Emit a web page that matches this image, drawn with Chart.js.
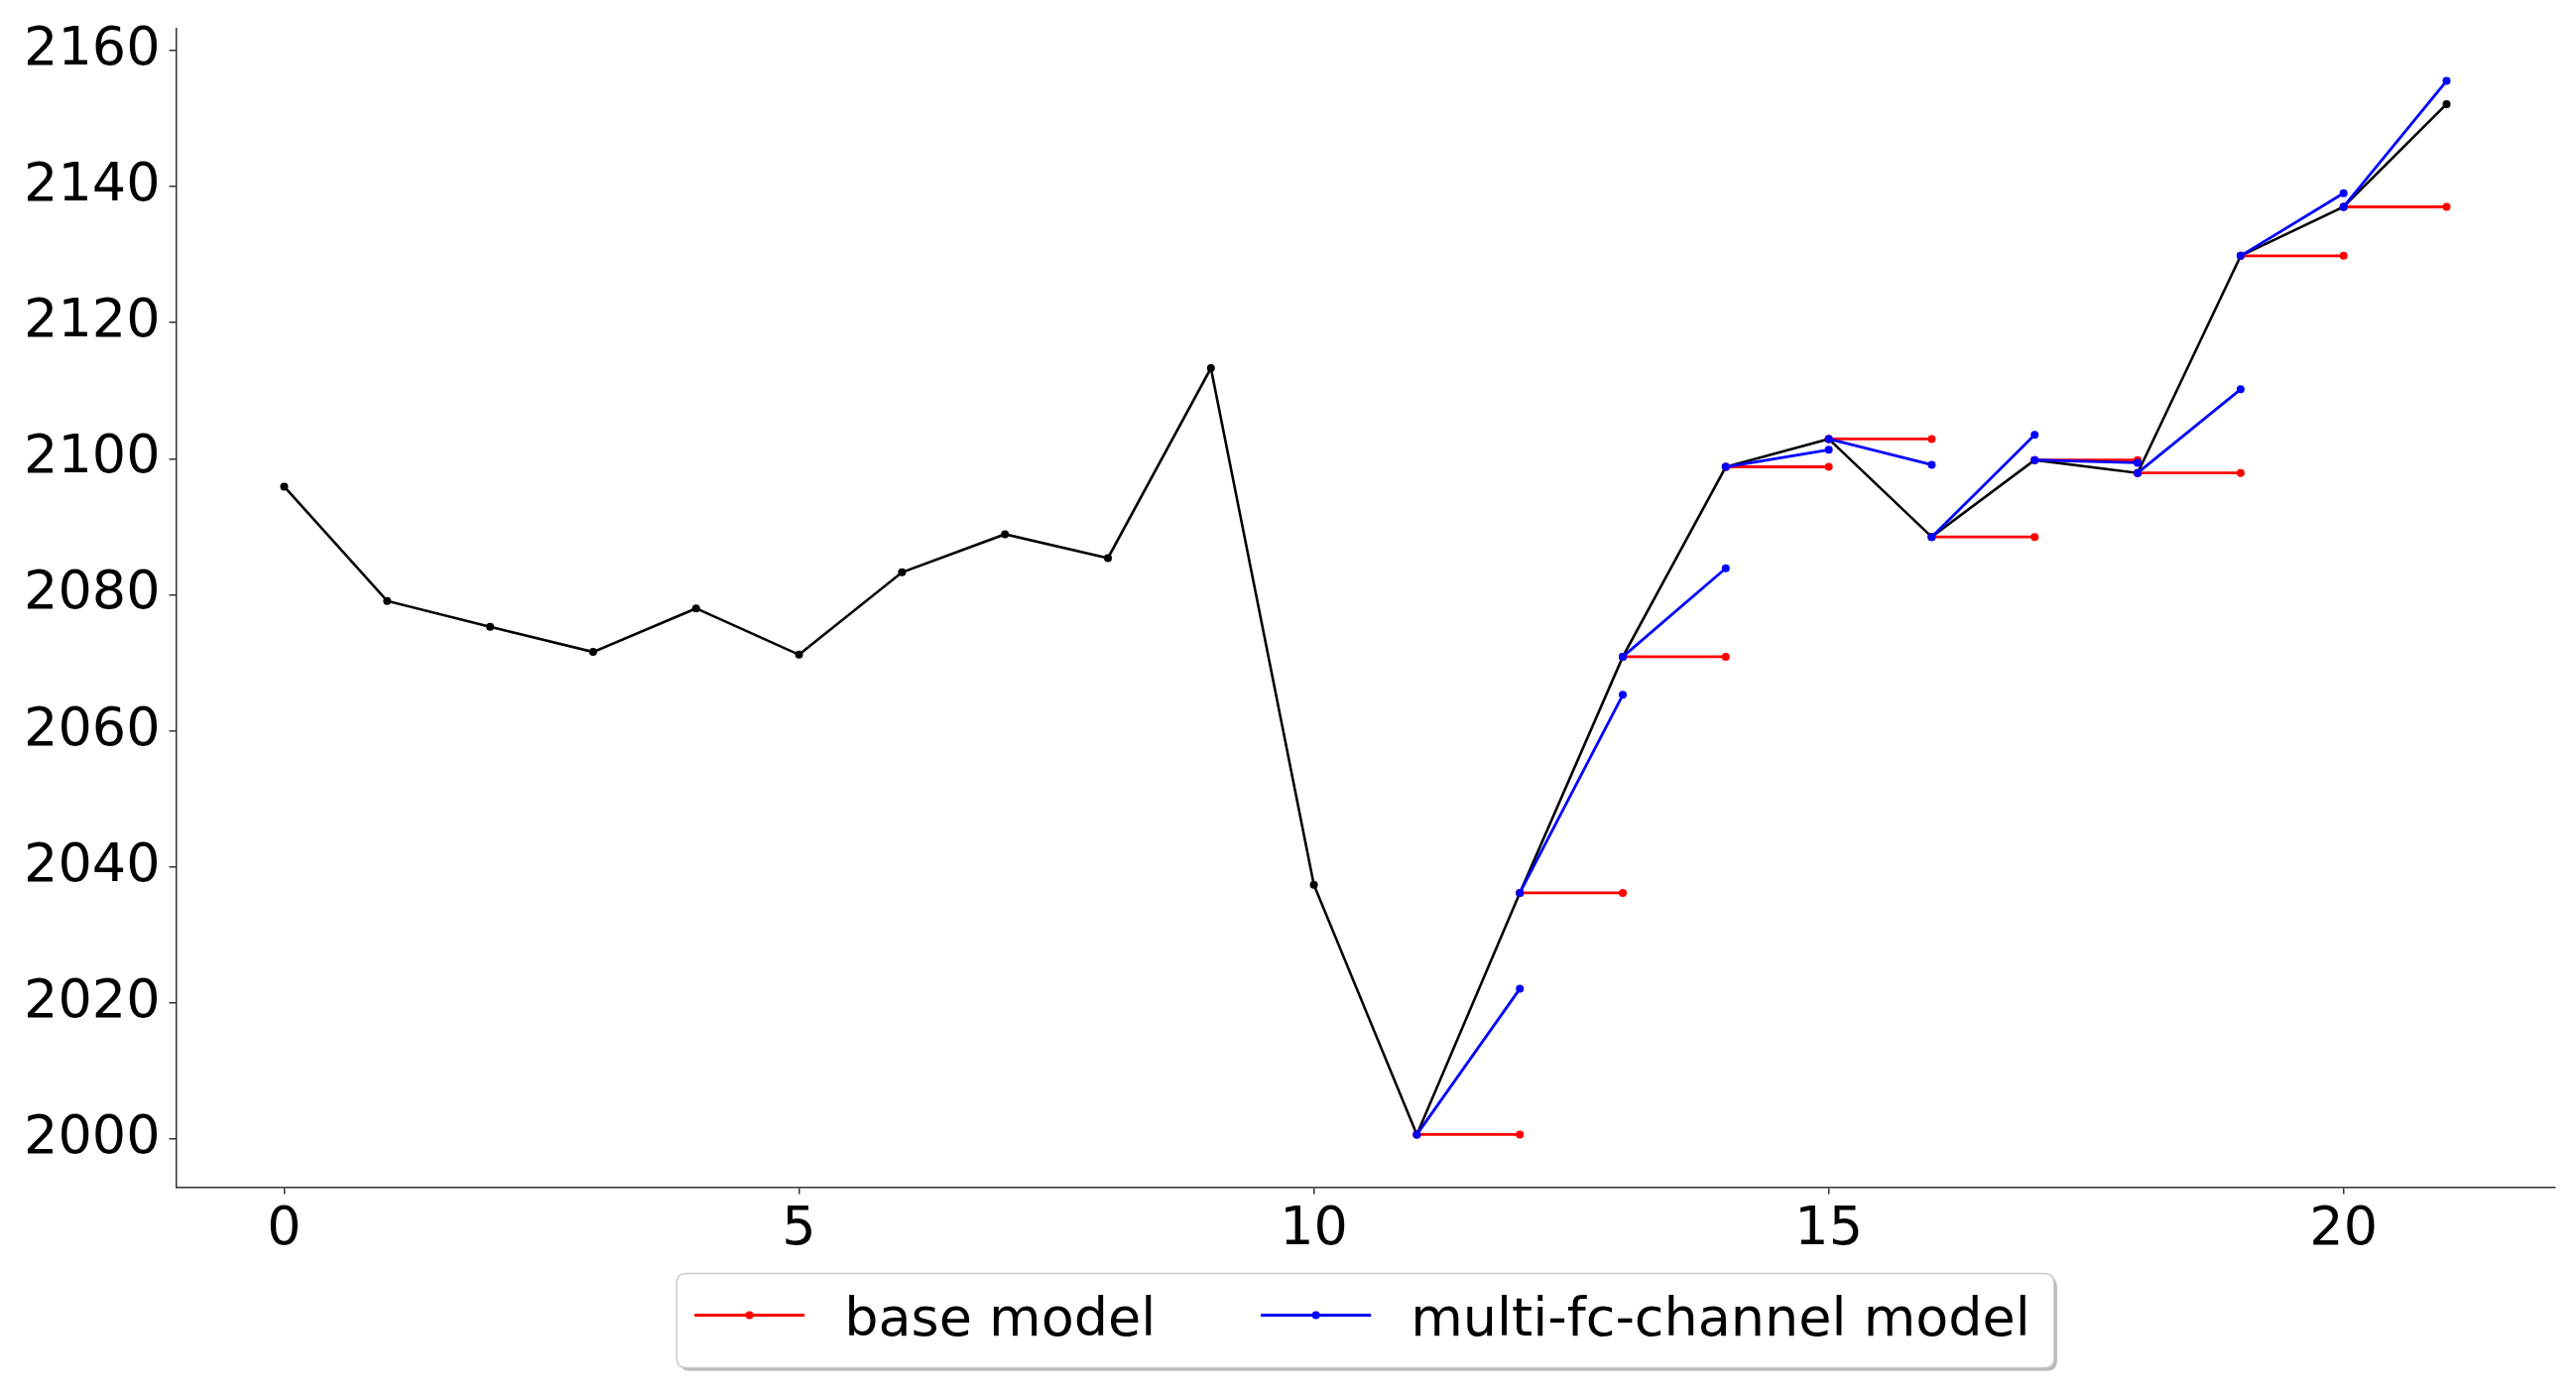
<!DOCTYPE html>
<html>
<head>
<meta charset="utf-8">
<script src="https://cdn.jsdelivr.net/npm/chart.js@4.4.0/dist/chart.umd.min.js"></script>
<style>
html,body{margin:0;padding:0;background:#fff;overflow:hidden}
canvas{display:block}
</style>
</head>
<body>
<canvas id="c" width="2597" height="1411"></canvas>
<script>
// ---- data ----
const steps = [0,1,2,3,4,5,6,7,8,9,10,11,12,13,14,15,16,17,18,19,20,21];
const actual = [2095.9,2079.1,2075.3,2071.6,2078.0,2071.2,2083.3,2088.9,2085.4,2113.3,2037.4,
                2000.7,2036.2,2070.9,2098.8,2102.9,2088.5,2099.8,2097.9,2129.8,2137.0,2152.1];
const forecastSteps = [12,13,14,15,16,17,18,19,20,21];
const baseForecast = [2000.7,2036.2,2070.9,2098.8,2102.9,2088.5,2099.8,2097.9,2129.8,2137.0];
const multiFcForecast = [2022.1,2065.3,2083.9,2101.3,2099.1,2103.5,2099.4,2110.2,2139.0,2155.5];
const xTicks = [0,5,10,15,20];
const yTicks = [2000,2020,2040,2060,2080,2100,2120,2140,2160];
const seriesLabels = ['base model','multi-fc-channel model'];

// ---- helpers ----
function segments(forecast){
  const pts = [];
  forecastSteps.forEach((s,k)=>{
    if(k>0) pts.push({x:s-1, y:null});
    pts.push({x:s-1, y:actual[steps.indexOf(s-1)]});
    pts.push({x:s, y:forecast[k]});
  });
  return pts;
}
const allY = actual.concat(baseForecast, multiFcForecast);
const yLo = Math.min(...allY), yHi = Math.max(...allY);
const yPad = (yHi - yLo) * 0.05;
const xLo = Math.min(...steps), xHi = Math.max(...steps);
const xPad = (xHi - xLo) * 0.05;

const FONT = 'DejaVu Sans';
const FS = 54;

const legendPlugin = {
  id: 'boxLegend',
  afterDraw(chart){
    const ctx = chart.ctx, area = chart.chartArea;
    const items = chart.data.datasets.filter(d => d.inLegend);
    ctx.save();
    ctx.font = FS + 'px "' + FONT + '"';
    const widths = items.map(d => ctx.measureText(d.label).width);
    const padL = 18, handle = 111, textPad = 40, colSpace = 106, padR = 24;
    let W = padL;
    items.forEach((d,i)=>{ W += handle + textPad + widths[i]; if(i < items.length-1) W += colSpace; });
    W += padR;
    const H = 95;
    const left = (area.left + area.right)/2 - W/2;
    const top = area.bottom + 87;
    const r = 10;
    function rr(x,y,w,h){
      ctx.beginPath();
      ctx.moveTo(x+r,y); ctx.lineTo(x+w-r,y); ctx.quadraticCurveTo(x+w,y,x+w,y+r);
      ctx.lineTo(x+w,y+h-r); ctx.quadraticCurveTo(x+w,y+h,x+w-r,y+h);
      ctx.lineTo(x+r,y+h); ctx.quadraticCurveTo(x,y+h,x,y+h-r);
      ctx.lineTo(x,y+r); ctx.quadraticCurveTo(x,y,x+r,y); ctx.closePath();
    }
    // shadow
    rr(left+3, top+3, W, H);
    ctx.fillStyle = 'rgba(128,128,128,0.55)';
    ctx.fill();
    // frame
    rr(left, top, W, H);
    ctx.fillStyle = '#ffffff';
    ctx.fill();
    ctx.lineWidth = 1.5;
    ctx.strokeStyle = '#cccccc';
    ctx.stroke();
    // entries
    let x = left + padL;
    const lineY = top + 42;
    const baseY = top + 62;
    items.forEach((d,i)=>{
      ctx.beginPath();
      ctx.moveTo(x, lineY); ctx.lineTo(x + handle, lineY);
      ctx.lineWidth = d.borderWidth; ctx.strokeStyle = d.borderColor; ctx.stroke();
      ctx.beginPath();
      ctx.arc(x + handle/2, lineY, d.pointRadius, 0, Math.PI*2);
      ctx.fillStyle = d.borderColor; ctx.fill();
      x += handle + textPad;
      ctx.fillStyle = '#000';
      ctx.textBaseline = 'alphabetic';
      ctx.textAlign = 'left';
      ctx.fillText(d.label, x, baseY);
      x += widths[i] + colSpace;
    });
    ctx.restore();
  }
};

const axisCommon = {
  type: 'linear',
  grid: { drawOnChartArea: false, drawTicks: true, tickLength: 7, color: '#333', lineWidth: 1.5 },
  border: { display: true, color: '#333', width: 1.5 },
};

new Chart(document.getElementById('c'), {
  type: 'line',
  data: {
    datasets: [
      {
        label: seriesLabels[0], inLegend: true,
        data: segments(baseForecast),
        borderColor: '#ff0000', backgroundColor: '#ff0000',
        borderWidth: 2.8, pointRadius: 4, pointBorderWidth: 0,
        pointBackgroundColor: '#ff0000', spanGaps: false, order: 2
      },
      {
        label: seriesLabels[1], inLegend: true,
        data: segments(multiFcForecast),
        borderColor: '#0000ff', backgroundColor: '#0000ff',
        borderWidth: 2.8, pointRadius: 4, pointBorderWidth: 0,
        pointBackgroundColor: '#0000ff', spanGaps: false, order: 1
      },
      {
        label: 'actual', inLegend: false,
        data: steps.map((s,i)=>({x:s, y:actual[i]})),
        borderColor: '#000000', backgroundColor: '#000000',
        borderWidth: 2.6, pointRadius: 4, pointBorderWidth: 0,
        pointBackgroundColor: '#000000', order: 3
      }
    ]
  },
  options: {
    responsive: false,
    animation: false,
    events: [],
    layout: { padding: { top: 28.5, right: 21.5, left: 0, bottom: 0 } },
    plugins: { legend: { display: false }, tooltip: { enabled: false } },
    elements: { line: { tension: 0 } },
    scales: {
      x: Object.assign({}, axisCommon, {
        min: xLo - xPad, max: xHi + xPad,
        afterBuildTicks: s => { s.ticks = xTicks.map(v => ({value: v})); },
        afterFit: s => { s.height = 214.5; s.paddingLeft = 0; s.paddingRight = 0; },
        ticks: { font: { family: FONT, size: FS }, color: '#000', padding: 4, maxRotation: 0, autoSkip: false,
                 callback: v => String(v) }
      }),
      y: Object.assign({}, axisCommon, {
        min: yLo - yPad, max: yHi + yPad,
        afterBuildTicks: s => { s.ticks = yTicks.map(v => ({value: v})); },
        afterFit: s => { s.width = 177.5; s.paddingTop = 0; s.paddingBottom = 0; },
        ticks: { font: { family: FONT, size: FS }, color: '#000', padding: 9, autoSkip: false,
                 callback: v => String(v) }
      })
    }
  },
  plugins: [legendPlugin]
});
</script>
</body>
</html>
